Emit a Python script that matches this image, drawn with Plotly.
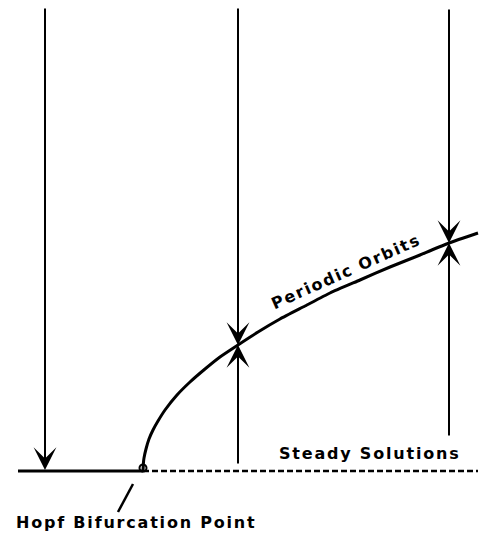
import plotly.graph_objects as go

# Hopf bifurcation diagram: steady branch along the parameter axis,
# square-root branch of periodic orbits, and trajectories attracted to it.

# steady solutions (amplitude 0): stable part, then unstable part
hopf_mu = 143
steady_start = 18
steady_end = 478

# periodic orbit branch (parameter, amplitude)
branch_mu = [143, 143.5, 144, 146, 149, 153, 158, 165, 177, 190, 205, 220,
             238, 258, 280, 305, 330, 360, 390, 420, 449, 478]
branch_amp = [0, 9, 13, 22, 32, 41, 50, 61, 76, 89, 102, 114,
              126, 139, 152, 165, 178, 191, 204, 216, 228, 238]

# trajectories started at three parameter values
probe_mu = [45, 238, 449]
probe_top = [464, 464, 463]
probe_bottom = [None, 6, 34]       # lower trajectory start (none for the left one)
probe_target = [1, 126, 228]       # amplitude the trajectories converge to

labels = {
    "branch": "Periodic Orbits",
    "steady": "Steady Solutions",
    "hopf": "Hopf Bifurcation Point",
}

W, H = 481, 542
baseline_px = 471

fig = go.Figure()

# periodic branch
fig.add_trace(go.Scatter(
    x=branch_mu, y=branch_amp, mode="lines",
    line=dict(color="black", width=3, shape="spline", smoothing=0.5),
    hoverinfo="skip", showlegend=False))

# stable steady branch (solid) and unstable (dashed)
fig.add_trace(go.Scatter(
    x=[steady_start, hopf_mu], y=[0, 0], mode="lines",
    line=dict(color="black", width=3), hoverinfo="skip", showlegend=False))
fig.add_trace(go.Scatter(
    x=[hopf_mu, steady_end], y=[0, 0], mode="lines",
    line=dict(color="black", width=2.5, dash="6px,3px"),
    hoverinfo="skip", showlegend=False))

# Hopf point marker
fig.add_trace(go.Scatter(
    x=[hopf_mu], y=[3], mode="markers",
    marker=dict(symbol="circle-open", size=7, color="black", line=dict(width=2)),
    hoverinfo="skip", showlegend=False))

font = dict(family="DejaVu Sans", size=16, color="black")


def spaced(s):
    return '<span style="letter-spacing:1.8px"><b>%s</b></span>' % s


arrow_style = dict(showarrow=True, arrowhead=3, arrowsize=1.9, arrowwidth=2,
                   arrowcolor="black", axref="x", ayref="y", xref="x", yref="y",
                   standoff=0, text="")

# trajectories: from above down to the attractor, and from below up to it
for mu, top, bottom, target in zip(probe_mu, probe_top, probe_bottom, probe_target):
    fig.add_annotation(x=mu, y=target, ax=mu, ay=top, **arrow_style)
    if bottom is not None:
        fig.add_annotation(x=mu, y=target, ax=mu, ay=bottom, **arrow_style)

# labels
fig.add_annotation(x=346, y=baseline_px - 271, text=spaced(labels["branch"]),
                   showarrow=False, textangle=-24, font=font, xref="x", yref="y")
fig.add_annotation(x=370, y=baseline_px - 453, text=spaced(labels["steady"]),
                   showarrow=False, font=font, xref="x", yref="y")
fig.add_annotation(x=136, y=baseline_px - 522, text=spaced(labels["hopf"]),
                   showarrow=False, font=font, xref="x", yref="y")

# pointer from the Hopf label to the bifurcation point
fig.add_shape(type="line", x0=133, y0=baseline_px - 484, x1=118, y1=baseline_px - 512,
              line=dict(color="black", width=2.5), xref="x", yref="y")

fig.update_xaxes(range=[0, W], visible=False, fixedrange=True)
fig.update_yaxes(range=[baseline_px - H, baseline_px], visible=False, fixedrange=True)
fig.update_layout(width=W, height=H, margin=dict(l=0, r=0, t=0, b=0),
                  plot_bgcolor="white", paper_bgcolor="white", showlegend=False)

fig.write_html("out.html")
